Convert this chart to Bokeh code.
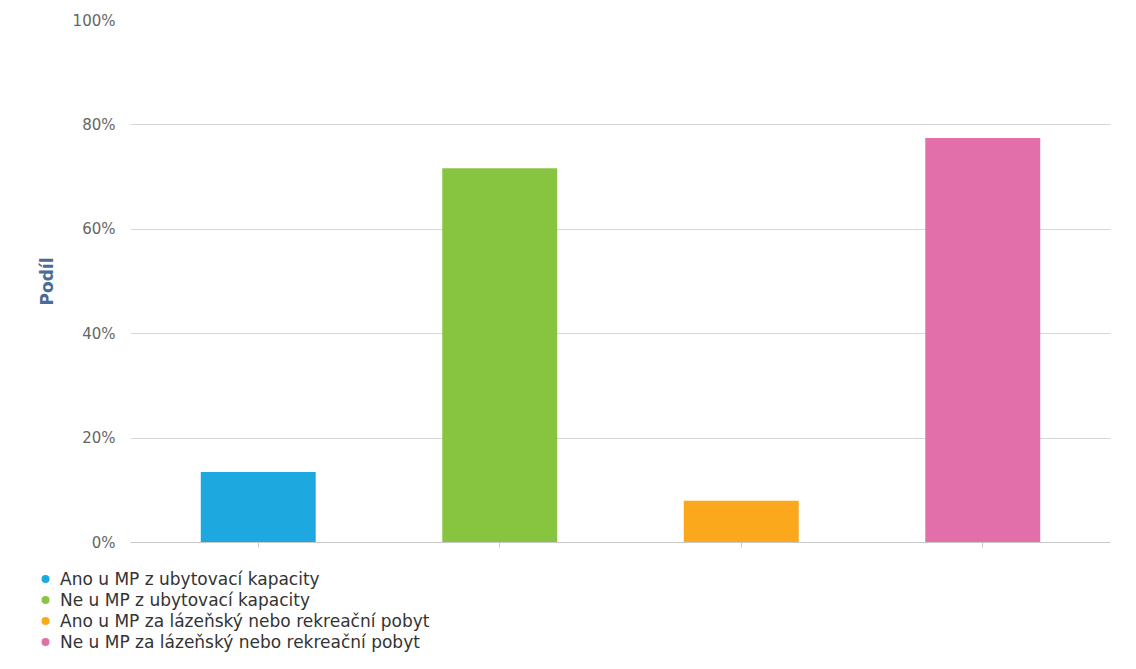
from bokeh.plotting import figure
from bokeh.layouts import column, row
from bokeh.models import (ColumnDataSource, Legend, LegendItem, FactorRange,
                          Range1d, FixedTicker, PrintfTickFormatter,
                          CustomJSTickFormatter)
from bokeh.embed import file_html
from bokeh.resources import INLINE

categories = [
    "Ano u MP z ubytovací kapacity",
    "Ne u MP z ubytovací kapacity",
    "Ano u MP za lázeňský nebo rekreační pobyt",
    "Ne u MP za lázeňský nebo rekreační pobyt",
]
values = [13.5, 71.7, 8.0, 77.5]
colors = ["#1da9df", "#87c540", "#fba81c", "#e26fa9"]
y_ticks = [0, 20, 40, 60, 80, 100]

src = ColumnDataSource(dict(cat=categories, val=values, color=colors))

p = figure(
    width=1120, height=556,
    x_range=FactorRange(factors=categories, range_padding=0.029,
                        range_padding_units="absolute"),
    y_range=Range1d(0, 100),
    output_backend="svg", toolbar_location=None,
    min_border_left=130, min_border_right=10,
    min_border_top=20, min_border_bottom=14,
)
p.outline_line_color = None
p.background_fill_color = "white"
p.border_fill_color = "white"

p.vbar(x="cat", top="val", width=0.476, color="color", source=src,
       line_color=None)

# y axis
p.yaxis.ticker = FixedTicker(ticks=y_ticks)
p.yaxis.formatter = PrintfTickFormatter(format="%d%%")
p.yaxis.axis_line_color = None
p.yaxis.major_tick_line_color = None
p.yaxis.major_tick_out = 0
p.yaxis.major_tick_in = 0
p.yaxis.minor_tick_line_color = None
p.yaxis.minor_tick_out = 0
p.yaxis.major_label_text_color = "#666666"
p.yaxis.major_label_text_font = "DejaVu Sans"
p.yaxis.major_label_text_font_size = "15px"
p.yaxis.major_label_standoff = 15
p.yaxis.axis_label = "Podíl"
p.yaxis.axis_label_text_font = "DejaVu Sans"
p.yaxis.axis_label_text_font_style = "bold"
p.yaxis.axis_label_text_font_size = "17px"
p.yaxis.axis_label_text_color = "#4a6b96"
p.yaxis.axis_label_standoff = 13

# x axis: line and ticks only
p.xaxis.formatter = CustomJSTickFormatter(code="return ''")
p.xaxis.major_label_standoff = 0
p.xaxis.axis_line_color = "#c8c8c8"
p.xaxis.major_tick_line_color = "#c8c8c8"
p.xaxis.major_tick_out = 5
p.xaxis.major_tick_in = 0
p.xaxis.minor_tick_line_color = None

p.xgrid.grid_line_color = None
p.ygrid.grid_line_color = "#d6d6d6"
p.ygrid.grid_line_width = 1

# legend figure below the chart
q = figure(
    width=1120, height=97,
    x_range=FactorRange(factors=categories), y_range=Range1d(0, 100),
    x_axis_location=None, y_axis_location=None,
    output_backend="svg", toolbar_location=None,
    min_border=0, min_border_left=0, min_border_right=0,
    min_border_top=0, min_border_bottom=0,
)
q.grid.visible = False
q.outline_line_color = None
q.background_fill_color = "white"
q.border_fill_color = "white"
dots = q.scatter(x="cat", y="val", color="color", source=src, size=10,
                 line_color=None, visible=False)

items = [LegendItem(label=c, renderers=[dots], index=i)
         for i, c in enumerate(categories)]
legend = Legend(items=items, location=(35, 1), orientation="vertical",
                glyph_width=20, glyph_height=21, label_height=21,
                spacing=0, padding=0, margin=0, label_standoff=5,
                label_text_font="DejaVu Sans", label_text_font_size="17px",
                label_text_color="#333333",
                background_fill_alpha=0, border_line_color=None)
q.add_layout(legend, "center")

layout = column(p, row(q, spacing=0), spacing=0)
open("out.html", "w").write(file_html(layout, INLINE))
